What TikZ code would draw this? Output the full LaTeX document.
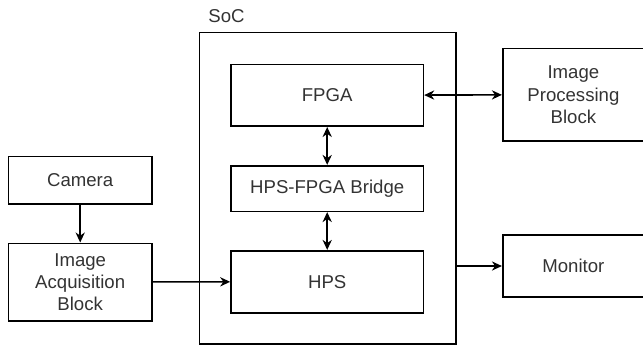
\documentclass[tikz,border=0pt]{standalone}
\usepackage{fontspec}
\setmainfont{Liberation Sans}
\usepackage{tikz}
\usetikzlibrary{positioning,shapes,arrows.meta}

\begin{document}
\begin{tikzpicture}[>={Stealth[length=5pt,width=4.6pt,inset=1.6pt]}, x=0.5pt, y=-0.5pt, line width=0.8pt,
    every node/.style={font=\fontsize{9.3}{11.1}\selectfont, text=black!80},
    block/.style={draw, rectangle, inner sep=0pt, align=center}]
  \useasboundingbox (0,0) rectangle (643,349);

  \node[block, minimum width=128.2pt, minimum height=155.9pt] (soc) at (327.5,188.2) {};
  \node (soclabel) at (226.5,16.5) {SoC};

  \tikzset{node distance=46.6pt}
  \node[block, minimum width=96.2pt, minimum height=22.8pt] (bridge) at (327.2,188.5) {HPS-FPGA Bridge};
  \node[block, minimum width=96.2pt, minimum height=30.9pt] (fpga) [above of=bridge] {FPGA};
  \node[block, minimum width=96.2pt, minimum height=31pt] (hps) [below of=bridge] {HPS};

  \node[block, minimum width=71.9pt, minimum height=23.7pt] (camera) at (80.2,180.3) {Camera};
  \node[block, minimum width=71.9pt, minimum height=38.7pt] (acq) [below of=camera, node distance=50.85pt] {Image\\Acquisition\\Block};

  \node[block, minimum width=70.7pt, minimum height=46.4pt] (imgproc) at (573.4,94.7) {Image\\Processing\\Block};
  \node[block, minimum width=70.7pt, minimum height=31pt] (monitor) [below of=imgproc, node distance=85.65pt] {Monitor};

  \path[->] (camera) edge (acq);
  \path[->] (acq) edge (hps);
  \path[<->] (fpga) edge (bridge);
  \path[<->] (bridge) edge (hps);
  \path[<->] (fpga) edge (imgproc);
  \draw[->] (soc.east |- monitor) -- (monitor);
\end{tikzpicture}
\end{document}
